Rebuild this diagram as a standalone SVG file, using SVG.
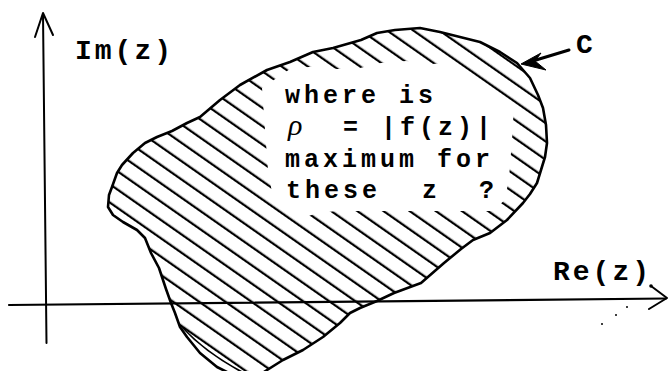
<svg xmlns="http://www.w3.org/2000/svg" width="668" height="371" viewBox="0 0 668 371">
<style>
.ln{fill:none;stroke:#000;stroke-linecap:round;stroke-linejoin:round}
.lbl{font-family:"Liberation Mono","DejaVu Sans Mono",monospace;font-weight:bold;fill:#000}
.ax{font-size:28px;letter-spacing:3px}
.body{font-size:25px;letter-spacing:4px}
</style>
<defs>
<pattern id="hatch" patternUnits="userSpaceOnUse" width="40" height="15" patternTransform="rotate(35)">
<line x1="-5" y1="12.9" x2="45" y2="12.9" stroke="#000" stroke-width="2.3"/>
</pattern>
<clipPath id="blobclip">
<path id="blobshape" d="M117,173 L122,165 L133,153 L145,143 L157,137 L172,131 L187,123 L200,117 L220,100 L240,85 L267,70 L290,62 L313,52 L333,48 L361,40 L377,33 L395,30 L420,28 L440,32 L460,37 L480,42 L500,52 L517,63 L530,78 L538,95 L543,108 L546,125 L547,143 L545,157 L541,170 L537,183 L530,194 L523,203 L507,220 L490,233 L473,240 L461,249 L444,263 L421,283 L394,293 L377,301 L360,308 L350,313 L340,323 L323,337 L303,350 L283,360 L267,370 L255,378 L235,376 L217,367 L200,353 L187,337 L180,327 L175,313 L171,303 L166,289 L159,268 L151,253 L145,238 L137,230 L123,222 L113,215 L108,207 L109,195 L112,187 Z"/>
</clipPath>
<mask id="textmask" maskUnits="userSpaceOnUse" x="0" y="0" width="668" height="371">
<rect x="0" y="0" width="668" height="371" fill="#fff"/>
<path d="M262,88 L290,69 L318,66 L337,69 L360,68 L381,63 L406,61 L432,64 L448,63 L514,106 L512,140 L509,178 L505,200 L492,211 L337,211 L318,213 L302,218 L288,212 L274,204 L268,170 L265,130 Z" fill="#000"/>
</mask>
</defs>
<rect width="668" height="371" fill="#fff"/>

<g id="region">
<g clip-path="url(#blobclip)">
<rect x="0" y="0" width="668" height="371" fill="url(#hatch)" mask="url(#textmask)"/>
</g>
<use href="#blobshape" class="ln" stroke-width="2.6"/>
<path class="ln" stroke-width="1.8" d="M183,328 Q205,352 242,372"/>
</g>

<g id="connectors">
<g id="im-axis">
<path class="ln" stroke-width="2" d="M46.5,343 L43,14"/>
<path class="ln" stroke-width="2" d="M35,37 L43,13 L53,35"/>
</g>
<g id="re-axis">
<path class="ln" stroke-width="2.2" d="M9,305 L666,298.5"/>
<path class="ln" stroke-width="2" d="M651,286 L667,298 L649,309"/>
<circle cx="651" cy="286" r="1.8" fill="#000"/>
<circle cx="602" cy="324" r="1" fill="#000"/>
<circle cx="616" cy="315" r="1" fill="#000"/>
<circle cx="627" cy="307" r="1" fill="#000"/>
</g>
<g id="c-arrow">
<path class="ln" stroke-width="3" d="M569,50 L536,60"/>
<path d="M521,64 L541,53 L535,61 L546,70 Z" fill="#000" stroke="#000" stroke-width="1" stroke-linejoin="round"/>
</g>
</g>

<g id="label-im">
<text class="lbl ax" x="75" y="59">Im(z)</text>
</g>
<g id="label-re">
<text class="lbl ax" x="553" y="280">Re(z)</text>
</g>
<g id="label-c">
<text class="lbl ax" x="576" y="53">C</text>
</g>

<g id="question">
<text class="lbl body" x="285" y="103">where is</text>
<text x="288" y="135" font-family="'Liberation Serif','DejaVu Serif',serif" font-style="italic" font-size="30" fill="#000">ρ</text>
<text class="lbl body" y="135"><tspan x="343">=</tspan><tspan x="381">|f(z)|</tspan></text>
<text class="lbl body" x="285" y="167">maximum for</text>
<text class="lbl body" y="198"><tspan x="286">these</tspan><tspan x="422">z</tspan><tspan x="479">?</tspan></text>
</g>
</svg>
